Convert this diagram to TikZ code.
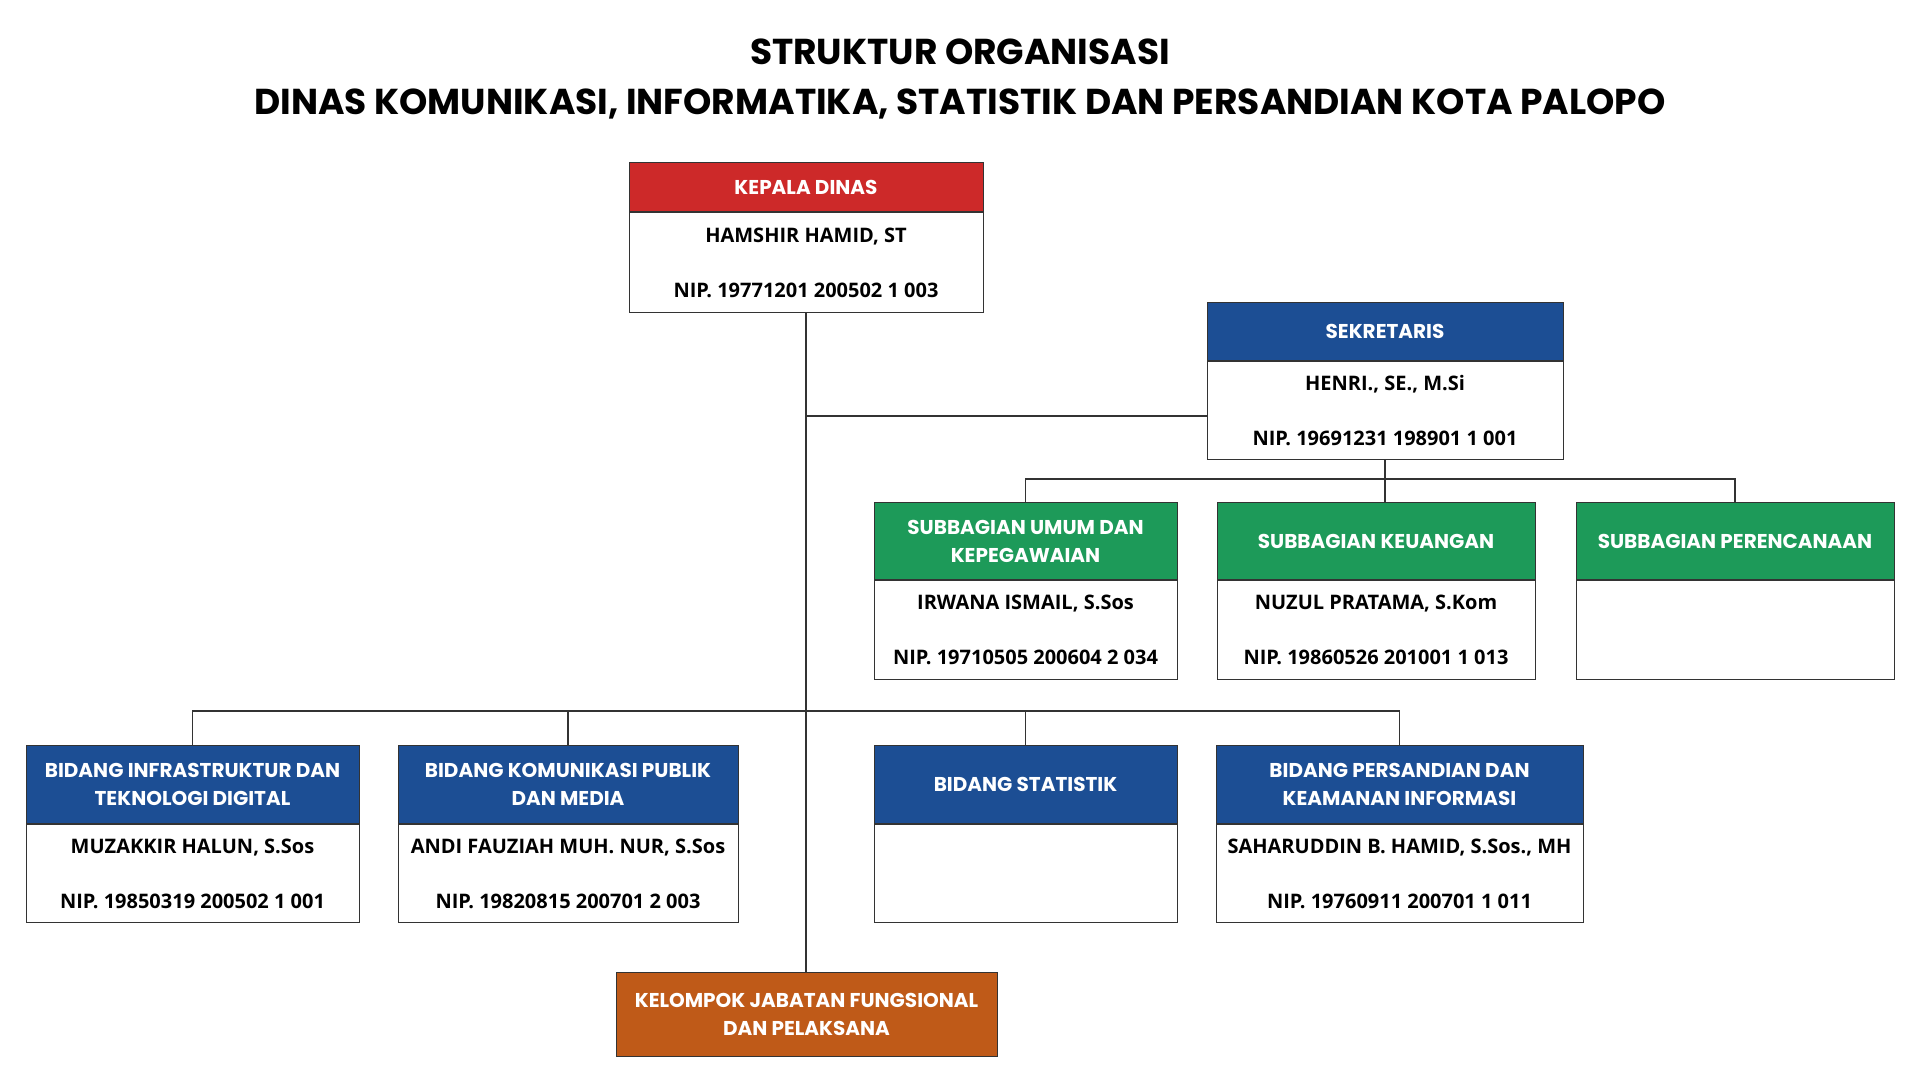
\documentclass[tikz,border=0pt]{standalone}
\usepackage{fontspec}
\newfontfamily\pop{Poppins}
\newfontfamily\opn{Open Sans}
\definecolor{cred}{HTML}{CD2929}
\definecolor{cblue}{HTML}{1C4E94}
\definecolor{cgreen}{HTML}{1D9A59}
\definecolor{corange}{HTML}{BF5A18}
\definecolor{cline}{HTML}{333333}
\tikzset{
  hdr/.style={draw=cline, line width=1pt, inner sep=0pt, align=center, text=white,
    font=\pop\bfseries\fontsize{20}{28}\selectfont},
  bodybox/.style={draw=cline, fill=white, line width=1pt, inner sep=0pt, align=center, text=black,
    font=\opn\bfseries\fontsize{20}{55}\selectfont},
  conn/.style={draw=cline, line width=1.2pt},
  ttl/.style={font=\pop\bfseries\fontsize{36}{42}\selectfont, text=black},
}
\newcommand\orgbox[9]{%
  \node[hdr, fill=#7, minimum width=#4pt, minimum height=#5pt, anchor=north] (#1h) at (#2,#3) {#8};
  \node[bodybox, minimum width=#4pt, minimum height=#6pt, anchor=north] (#1b) at (#1h.south) {#9};
}
\begin{document}
\begin{tikzpicture}[x=1pt,y=-1pt]
\useasboundingbox[fill=white] (0,0) rectangle (1920,1080);
\node[ttl] (t1) at (960,52) {STRUKTUR ORGANISASI};
\node[ttl] (t2) at (960,104) {DINAS KOMUNIKASI, INFORMATIKA, STATISTIK DAN PERSANDIAN KOTA PALOPO};
% boxes
\orgbox{kep}{806}{162}{354}{49}{100}{cred}{KEPALA DINAS}{HAMSHIR HAMID, ST\\NIP. 19771201 200502 1 003}
\orgbox{sek}{1385}{302}{356}{58}{98}{cblue}{SEKRETARIS}{HENRI., SE., M.Si\\NIP. 19691231 198901 1 001}
\orgbox{um}{1025.5}{502}{303}{77}{99}{cgreen}{SUBBAGIAN UMUM DAN\\KEPEGAWAIAN}{IRWANA ISMAIL, S.Sos\\NIP. 19710505 200604 2 034}
\orgbox{ku}{1376}{502}{318}{77}{99}{cgreen}{SUBBAGIAN KEUANGAN}{NUZUL PRATAMA, S.Kom\\NIP. 19860526 201001 1 013}
\orgbox{pr}{1735}{502}{318}{77}{99}{cgreen}{SUBBAGIAN PERENCANAAN}{}
\orgbox{inf}{192.5}{745}{333}{78}{98}{cblue}{BIDANG INFRASTRUKTUR DAN\\TEKNOLOGI DIGITAL}{MUZAKKIR HALUN, S.Sos\\NIP. 19850319 200502 1 001}
\orgbox{kom}{568}{745}{340}{78}{98}{cblue}{BIDANG KOMUNIKASI PUBLIK\\DAN MEDIA}{ANDI FAUZIAH MUH. NUR, S.Sos\\NIP. 19820815 200701 2 003}
\orgbox{sta}{1025.5}{745}{303}{78}{98}{cblue}{BIDANG STATISTIK}{}
\orgbox{per}{1399.5}{745}{367}{78}{98}{cblue}{BIDANG PERSANDIAN DAN\\KEAMANAN INFORMASI}{SAHARUDDIN B. HAMID, S.Sos., MH\\NIP. 19760911 200701 1 011}
\node[hdr, fill=corange, minimum width=381pt, minimum height=84pt, anchor=north] (kel) at (806.5,972) {KELOMPOK JABATAN FUNGSIONAL\\DAN PELAKSANA};
% connectors
\coordinate (j1) at (806,416);
\coordinate (bus1) at (1385,479);
\coordinate (bus2) at (806,711);
\draw[conn] (kepb.south) -- (kepb.south |- kel.north);
\draw[conn] (j1) -- (j1 -| sekb.west);
\draw[conn] (sekb.south) -- (sekb.south |- kuh.north);
\draw[conn] (umh.north) -- (umh.north |- bus1) -- (prh.north |- bus1) -- (prh.north);
\draw[conn] (infh.north) -- (infh.north |- bus2) -- (perh.north |- bus2) -- (perh.north);
\draw[conn] (komh.north) -- (komh.north |- bus2);
\draw[conn] (stah.north) -- (stah.north |- bus2);
\end{tikzpicture}
\end{document}
